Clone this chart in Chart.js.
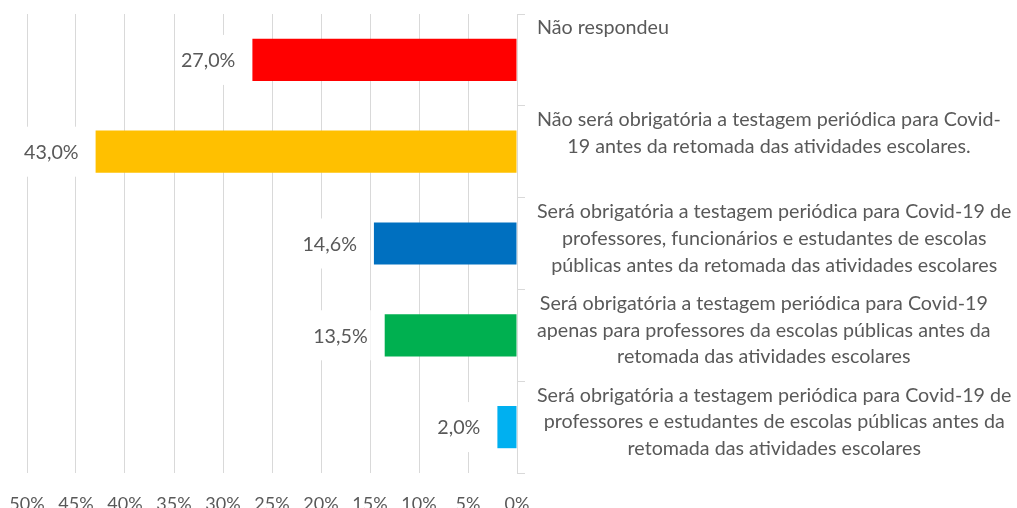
<!DOCTYPE html>
<html>
<head>
<meta charset="utf-8">
<script src="https://cdn.jsdelivr.net/npm/chart.js@4"></script>
<style>
  html, body { margin: 0; padding: 0; background: #ffffff; }
  #wrap { width: 1017px; height: 508px; position: relative; }
</style>
</head>
<body>
<div id="wrap"><canvas id="c" width="1017" height="508"></canvas></div>
<script>
// ---- data ----
const categories = [
  ["Não respondeu"],
  ["Não será obrigatória a testagem periódica para Covid-",
   "19 antes da retomada das atividades escolares."],
  ["Será obrigatória a testagem periódica para Covid-19 de",
   "professores, funcionários e estudantes de escolas",
   "públicas antes da retomada das atividades escolares"],
  ["Será obrigatória a testagem periódica para Covid-19",
   "apenas para professores da escolas públicas antes da",
   "retomada das atividades escolares"],
  ["Será obrigatória a testagem periódica para Covid-19 de",
   "professores e estudantes de escolas públicas antes da",
   "retomada das atividades escolares"]
];
const values = [27.0, 43.0, 14.6, 13.5, 2.0];
const barColors = ["#FF0000", "#FFC000", "#0070C0", "#00B050", "#00B0F0"];
const xMin = 0;
const xMax = 50;
const xStep = 5;

const FONT = "Lato, 'Open Sans', 'DejaVu Sans', sans-serif";
const TEXT = "#595959";
const GRID = "#D9D9D9";
const LABEL_SIZE = 19.7;
const TICK_SIZE = 18;

const fmt = v => v.toFixed(1).replace('.', ',') + '%';

const categoryLabelPlugin = {
  id: 'categoryLabels',
  afterDraw(chart) {
    const ys = chart.scales.y;
    const ctx = chart.ctx;
    const n = categories.length;
    const band = (ys.bottom - ys.top) / n;
    ctx.save();
    ctx.font = LABEL_SIZE + "px " + FONT;
    ctx.fillStyle = TEXT;
    ctx.textAlign = 'center';
    ctx.textBaseline = 'middle';
    const left = chart.chartArea.right + 20;
    categories.forEach((lines, i) => {
      const top = ys.getPixelForValue(i) - band / 2;
      const maxW = Math.max(...lines.map(l => ctx.measureText(l).width));
      const cx = left + maxW / 2;
      lines.forEach((l, j) => ctx.fillText(l, cx, top + 14 + j * 26.8));
    });
    ctx.restore();
  }
};

const valueLabelPlugin = {
  id: 'valueLabels',
  afterDatasetsDraw(chart) {
    const ctx = chart.ctx;
    const meta = chart.getDatasetMeta(0);
    ctx.save();
    ctx.font = LABEL_SIZE + "px " + FONT;
    ctx.textAlign = 'right';
    ctx.textBaseline = 'middle';
    meta.data.forEach((bar, i) => {
      const txt = fmt(values[i]);
      const w = ctx.measureText(txt).width;
      const right = bar.x - 17;
      ctx.fillStyle = '#ffffff';
      ctx.fillRect(right - w - 3, bar.y - 25, w + 6, 50);
      ctx.fillStyle = TEXT;
      ctx.fillText(txt, right, bar.y + 1);
    });
    ctx.restore();
  }
};

new Chart(document.getElementById('c'), {
  type: 'bar',
  data: {
    labels: categories.map(c => c.join(' ')),
    datasets: [{
      data: values,
      backgroundColor: barColors,
      borderWidth: 0,
      categoryPercentage: 1.0,
      barPercentage: 0.46
    }]
  },
  options: {
    indexAxis: 'y',
    responsive: false,
    animation: false,
    devicePixelRatio: 1,
    layout: { padding: { top: 14, left: 27, right: 0, bottom: 0 } },
    plugins: {
      legend: { display: false },
      tooltip: { enabled: false }
    },
    scales: {
      x: {
        reverse: true,
        min: xMin,
        max: xMax,
        border: { display: false },
        grid: { color: GRID, lineWidth: 1, drawTicks: false },
        ticks: {
          stepSize: xStep,
          padding: 20,
          color: TEXT,
          font: { family: FONT, size: TICK_SIZE },
          callback: v => v + '%',
          maxRotation: 0
        },
        afterFit(scale) {
          scale.height = 35;
          scale.paddingLeft = 0;
          scale.paddingRight = 0;
        }
      },
      y: {
        position: 'right',
        border: { display: true, color: GRID, width: 1 },
        grid: { drawOnChartArea: false, drawTicks: true, tickLength: 8, color: GRID, offset: true },
        ticks: { display: false },
        afterFit(scale) { scale.width = 500; }
      }
    }
  },
  plugins: [valueLabelPlugin, categoryLabelPlugin]
});
</script>
</body>
</html>
